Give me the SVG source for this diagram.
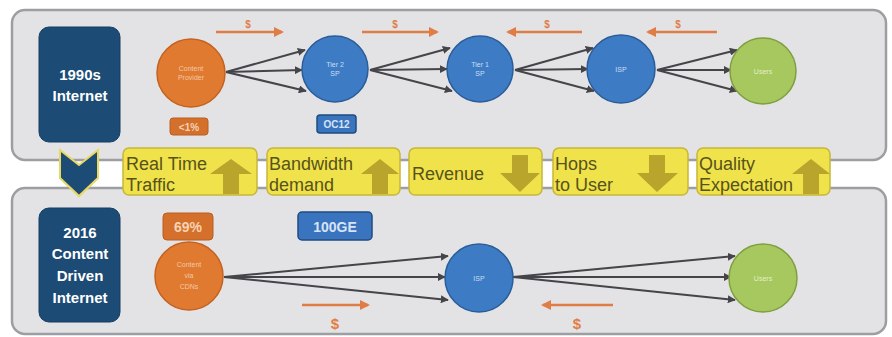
<svg xmlns="http://www.w3.org/2000/svg" width="892" height="337" viewBox="0 0 892 337">
<defs>
<style>
.panel{fill:#e3e3e6;stroke:#9c9ea2;stroke-width:2.5}
.era{fill:#1c4b75;stroke:#163d60;stroke-width:1}
.eratxt{font-family:"Liberation Sans",Arial,sans-serif;font-weight:bold;font-size:15px;fill:#ffffff;text-anchor:middle}
.orange{fill:#e07a30;stroke:#c4621f;stroke-width:1.5}
.blue{fill:#3d7cc4;stroke:#2a5d98;stroke-width:1.5}
.green{fill:#a7c75f;stroke:#7f9f40;stroke-width:1.5}
.ntxt{font-family:"Liberation Sans",Arial,sans-serif;font-size:7px;text-anchor:middle}
.otxt{fill:#f3c8a4}
.btxt{fill:#c9dcf2}
.gtxt{fill:#e4efcc}
.tag{font-family:"Liberation Sans",Arial,sans-serif;font-weight:bold;text-anchor:middle}
.ybox{fill:#f0e24a;stroke:#c8b63a;stroke-width:1.5}
.ytxt{font-family:"Liberation Sans",Arial,sans-serif;font-size:18px;fill:#57531a}
.yarr{fill:#b9a42c}
.link{stroke:#454549;stroke-width:2;fill:none;marker-end:url(#ah)}
.money{stroke:#e07d45;stroke-width:2.5;fill:none;marker-end:url(#mh)}
.dollar{font-family:"Liberation Sans",Arial,sans-serif;font-weight:bold;fill:#e07d45;text-anchor:middle}
</style>
<marker id="ah" viewBox="0 0 10 10" refX="9" refY="5" markerWidth="4" markerHeight="4" orient="auto"><path d="M0,0 L10,5 L0,10 z" fill="#454549"/></marker>
<marker id="mh" viewBox="0 0 10 10" refX="8" refY="5" markerWidth="4" markerHeight="4" orient="auto"><path d="M0,0 L10,5 L0,10 z" fill="#e07d45"/></marker>
</defs>
<rect width="892" height="337" fill="#ffffff"/>

<g id="panel-top"><rect class="panel" x="12" y="10" width="874" height="150" rx="13"/></g>
<g id="panel-bottom"><rect class="panel" x="12" y="188" width="874" height="146" rx="13"/></g>

<g id="era-1990s">
<rect class="era" x="39" y="27" width="81" height="115" rx="10"/>
<text class="eratxt" x="80" y="80">1990s</text>
<text class="eratxt" x="80" y="101">Internet</text>
</g>

<g id="chevron">
<polygon points="60,150 79,165 98,150 98,178 79,196 60,178" fill="#1c4b75" stroke="#e8d860" stroke-width="2"/>
</g>

<g id="era-2016">
<rect class="era" x="39" y="208" width="81" height="114" rx="10"/>
<text class="eratxt" x="80" y="238">2016</text>
<text class="eratxt" x="80" y="259">Content</text>
<text class="eratxt" x="80" y="281">Driven</text>
<text class="eratxt" x="80" y="303">Internet</text>
</g>

<g id="connectors">
<path class="link" d="M226,72 L305,50"/>
<path class="link" d="M226,72 L302,70"/>
<path class="link" d="M226,72 L306,91"/>
<path class="link" d="M370,70 L450,48"/>
<path class="link" d="M370,70 L447,69"/>
<path class="link" d="M370,70 L452,91"/>
<path class="link" d="M515,70 L593,48"/>
<path class="link" d="M515,70 L588,69"/>
<path class="link" d="M515,70 L594,91"/>
<path class="link" d="M657,70 L737,50"/>
<path class="link" d="M657,70 L731,70"/>
<path class="link" d="M657,70 L737,91"/>
<path class="link" d="M224,277 L448,256"/>
<path class="link" d="M224,277 L445,277"/>
<path class="link" d="M224,277 L448,300"/>
<path class="link" d="M513,277 L735,256"/>
<path class="link" d="M513,277 L731,277"/>
<path class="link" d="M513,277 L735,300"/>
<path class="money" d="M216,32 L282,32"/>
<path class="money" d="M362,32 L437,32"/>
<path class="money" d="M582,32 L508,32"/>
<path class="money" d="M717,32 L648,32"/>
<path class="money" d="M302,305 L368,305"/>
<path class="money" d="M613,305 L543,305"/>
<text class="dollar" x="248" y="28" font-size="10">$</text>
<text class="dollar" x="395" y="28" font-size="10">$</text>
<text class="dollar" x="547" y="28" font-size="10">$</text>
<text class="dollar" x="678" y="28" font-size="10">$</text>
<text class="dollar" x="335" y="329" font-size="15">$</text>
<text class="dollar" x="577" y="329" font-size="15">$</text>
</g>

<g id="content-provider">
<circle class="orange" cx="191" cy="73" r="34"/>
<text class="ntxt otxt" x="191" y="71">Content</text>
<text class="ntxt otxt" x="191" y="80">Provider</text>
</g>
<g id="tag-lt1">
<rect x="170" y="118" width="38" height="17" rx="3" fill="#d4702b" stroke="#b85e20"/>
<text class="tag" x="189" y="130.5" font-size="10" fill="#f6d3b5">&lt;1%</text>
</g>
<g id="tier2">
<circle class="blue" cx="335" cy="69" r="33"/>
<text class="ntxt btxt" x="335" y="67">Tier 2</text>
<text class="ntxt btxt" x="335" y="76">SP</text>
</g>
<g id="tag-oc12">
<rect x="317" y="115" width="39" height="18" rx="3" fill="#3b74be" stroke="#1f4c80" stroke-width="1.5"/>
<text class="tag" x="336.5" y="128" font-size="10" fill="#d6e4f5">OC12</text>
</g>
<g id="tier1">
<circle class="blue" cx="480" cy="69" r="33"/>
<text class="ntxt btxt" x="480" y="67">Tier 1</text>
<text class="ntxt btxt" x="480" y="76">SP</text>
</g>
<g id="isp-top">
<circle class="blue" cx="621" cy="69" r="34"/>
<text class="ntxt btxt" x="621" y="72">ISP</text>
</g>
<g id="users-top">
<circle class="green" cx="763" cy="71" r="33"/>
<text class="ntxt gtxt" x="763" y="74">Users</text>
</g>

<g id="factor-realtime">
<rect class="ybox" x="123" y="148" width="134" height="47" rx="6"/>
<polygon class="yarr" points="231,159 252,174 239,174 239,194 223,194 223,174 210,174"/>
<text class="ytxt" x="126" y="170">Real Time</text>
<text class="ytxt" x="126" y="191">Traffic</text>
</g>
<g id="factor-bandwidth">
<rect class="ybox" x="267" y="148" width="133" height="47" rx="6"/>
<polygon class="yarr" points="380,159 399,174 388,174 388,194 372,194 372,174 361,174"/>
<text class="ytxt" x="269" y="170">Bandwidth</text>
<text class="ytxt" x="269" y="191">demand</text>
</g>
<g id="factor-revenue">
<rect class="ybox" x="409" y="148" width="133" height="47" rx="6"/>
<polygon class="yarr" points="512,155 528,155 528,173 540,173 520,192 500,173 512,173"/>
<text class="ytxt" x="412" y="180">Revenue</text>
</g>
<g id="factor-hops">
<rect class="ybox" x="553" y="148" width="135" height="47" rx="6"/>
<polygon class="yarr" points="649,155 665,155 665,173 678,173 657,192 637,173 649,173"/>
<text class="ytxt" x="555" y="170">Hops</text>
<text class="ytxt" x="555" y="191">to User</text>
</g>
<g id="factor-quality">
<rect class="ybox" x="697" y="148" width="133" height="47" rx="6"/>
<polygon class="yarr" points="811,159 830,174 819,174 819,194 803,194 803,174 792,174"/>
<text class="ytxt" x="699" y="170">Quality</text>
<text class="ytxt" x="699" y="191">Expectation</text>
</g>

<g id="tag-69">
<rect x="163" y="213" width="50" height="27" rx="4" fill="#d4702b" stroke="#b85e20"/>
<text class="tag" x="188" y="232" font-size="14" fill="#f6d3b5">69%</text>
</g>
<g id="tag-100ge">
<rect x="298" y="212" width="74" height="28" rx="4" fill="#3b74be" stroke="#1f4c80" stroke-width="1.5"/>
<text class="tag" x="335" y="231.5" font-size="14" fill="#d6e4f5">100GE</text>
</g>
<g id="content-cdn">
<circle class="orange" cx="189" cy="276" r="34"/>
<text class="ntxt otxt" x="189" y="267">Content</text>
<text class="ntxt otxt" x="189" y="278">via</text>
<text class="ntxt otxt" x="189" y="289">CDNs</text>
</g>
<g id="isp-bottom">
<circle class="blue" cx="479" cy="278" r="34"/>
<text class="ntxt btxt" x="479" y="281">ISP</text>
</g>
<g id="users-bottom">
<circle class="green" cx="763" cy="278" r="34"/>
<text class="ntxt gtxt" x="763" y="281">Users</text>
</g>
</svg>
